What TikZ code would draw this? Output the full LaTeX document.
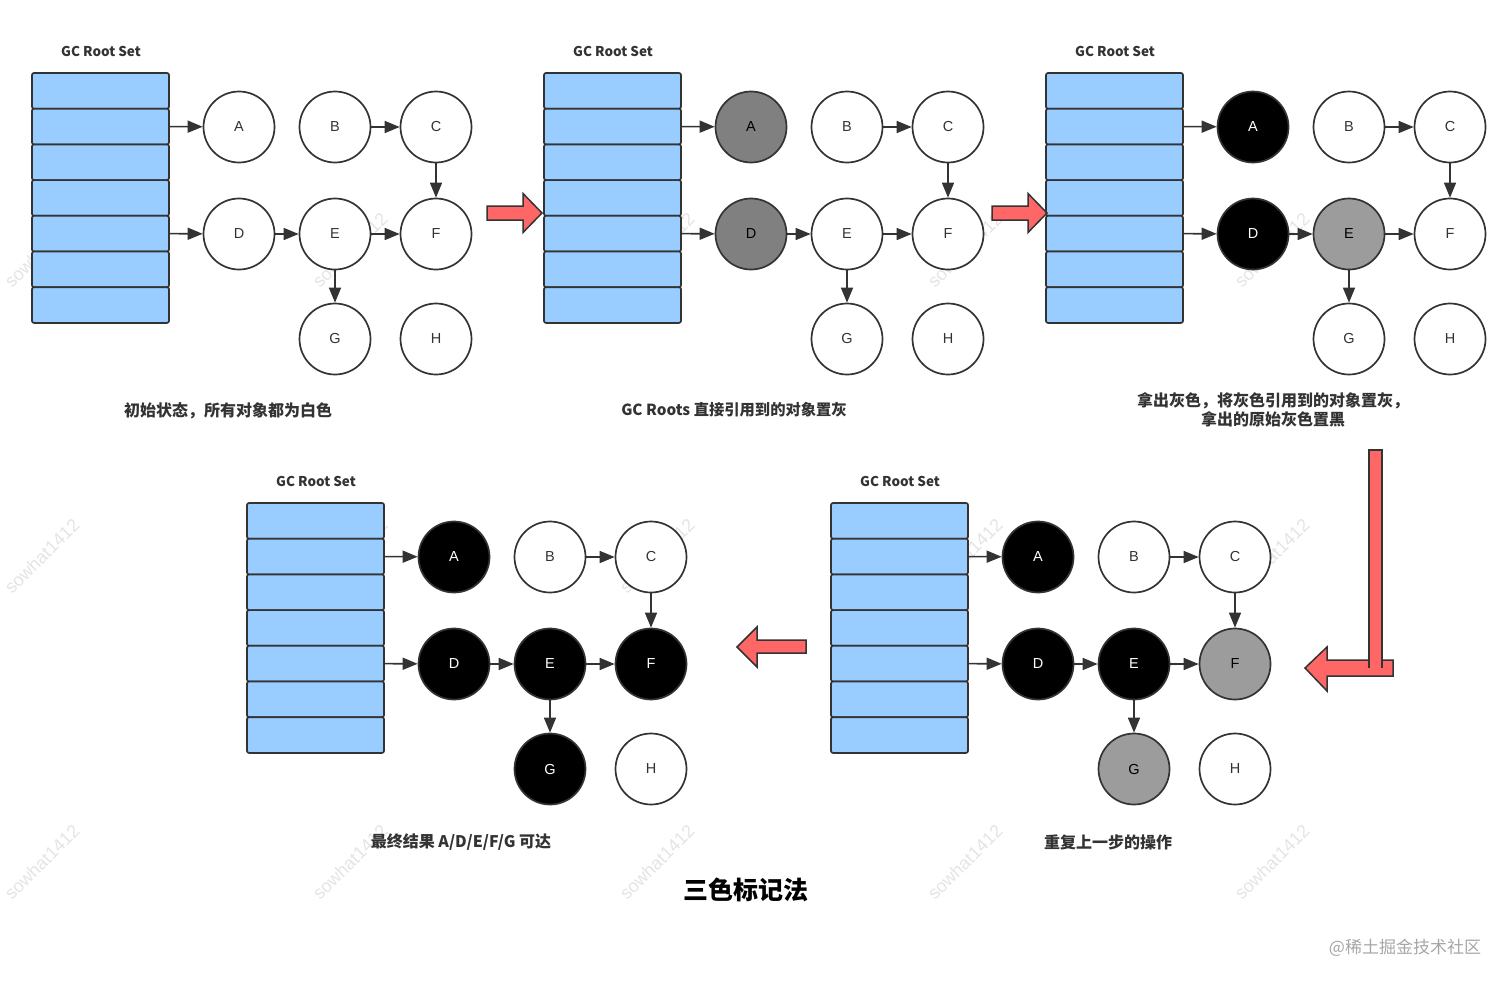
\documentclass[tikz,border=0pt]{standalone}
\usepackage{fontspec}
\usepackage{xcolor}
\usepackage{tikz}
\usetikzlibrary{arrows.meta,calc}
\setmainfont{Liberation Sans}
\newfontfamily\cjk{Noto Sans CJK SC}
\definecolor{rootblue}{HTML}{99CCFF}
\definecolor{linegray}{HTML}{333333}
\definecolor{objdark}{HTML}{808080}
\definecolor{objgray}{HTML}{9C9C9C}
\definecolor{redarrow}{HTML}{FF6666}
\definecolor{wmgray}{HTML}{E4E4E4}
\tikzset{
  rootcell/.style={draw=linegray, fill=rootblue, line width=1.7pt, rounded corners=2pt,
    minimum width=137pt, minimum height=35.7pt, inner sep=0pt},
  obj/.style={circle, draw=linegray, line width=1.7pt, minimum size=71pt, inner sep=0pt,
    font=\fontsize{14.5}{14.5}\selectfont},
  wobj/.style={obj, fill=white, text=linegray},
  dobj/.style={obj, fill=objdark, text=black},
  gobj/.style={obj, fill=objgray, text=black},
  bobj/.style={obj, fill=black, text=white},
  ref/.style={draw=linegray, line width=1.6pt, -{Triangle[length=15pt,width=12pt]}},
  setlabel/.style={font=\cjk\bfseries\fontsize{13.5}{14}\selectfont, text=linegray},
  caption/.style={font=\cjk\bfseries\fontsize{16}{19}\selectfont, text=linegray, align=center},
  bigarrow/.style={draw=linegray, fill=redarrow, line width=1.5pt, line join=miter},
  wmark/.style={font=\fontsize{18}{18}\selectfont, text=wmgray, rotate=45}
}
\newcommand{\gcpanel}[8]{
  \begin{scope}[shift={(#2,#3)}]
    \node[setlabel] (#1lbl) at (101,51) {GC Root Set};
    \foreach \i in {1,...,7}{
      \node[rootcell] (#1r\i) at (100.5,{73+35.7*(\i-0.5)}) {};
    }
    \node[#4] (#1A) at (239,127) {A};
    \node[wobj] (#1B) at (335,127) {B};
    \node[wobj] (#1C) at (436,127) {C};
    \node[#5] (#1D) at (239,234) {D};
    \node[#6] (#1E) at (335,234) {E};
    \node[#7] (#1F) at (436,234) {F};
    \node[#8] (#1G) at (335,339) {G};
    \node[wobj] (#1H) at (436,339) {H};
    \draw[ref] (#1r2.east) -- (#1A);
    \draw[ref] (#1r5.east) -- (#1D);
    \draw[ref] (#1B) -- (#1C);
    \draw[ref] (#1C) -- (#1F);
    \draw[ref] (#1D) -- (#1E);
    \draw[ref] (#1E) -- (#1F);
    \draw[ref] (#1E) -- (#1G);
  \end{scope}
}
\newcommand{\rightbig}[2]{
  \draw[bigarrow] (#1,#2-7) -- ++(36,0) -- ++(0,-12.5) -- ++(19,19.5) -- ++(-19,19.5)
    -- ++(0,-12.5) -- ++(-36,0) -- cycle;
}
\begin{document}
\begin{tikzpicture}[x=1pt,y=-1pt]
  \useasboundingbox (0,0) rectangle (1512,985);
  \foreach \wx in {42,350,657,965,1272}
    \foreach \wy in {250,556,862}{
      \node[wmark] (wm\wx\wy) at (\wx,\wy) {sowhat1412};
    }
  \gcpanel{p1}{0}{0}{wobj}{wobj}{wobj}{wobj}{wobj}
  \gcpanel{p2}{512}{0}{dobj}{dobj}{wobj}{wobj}{wobj}
  \gcpanel{p3}{1014}{0}{bobj}{bobj}{gobj}{wobj}{wobj}
  \gcpanel{p4}{799}{430}{bobj}{bobj}{bobj}{gobj}{gobj}
  \gcpanel{p5}{215}{430}{bobj}{bobj}{bobj}{bobj}{bobj}
  \rightbig{487}{213}
  \rightbig{992}{213}
  \draw[bigarrow] (737,647) -- (757,627) -- (757,640) -- (806,640) -- (806,653)
    -- (757,653) -- (757,667) -- cycle;
  \draw[bigarrow] (1305,668) -- (1327,647) -- (1327,660) -- (1393,660) -- (1393,676)
    -- (1327,676) -- (1327,691) -- cycle;
  \fill[redarrow] (1369,450) rectangle (1382,668);
  \draw[bigarrow, fill=none] (1369,668) -- (1369,450) -- (1382,450) -- (1382,668);
  \node[caption] (cap1) at (228,411) {初始状态，所有对象都为白色};
  \node[caption, font=\cjk\bfseries\fontsize{15.3}{19}\selectfont] (cap2) at (734,410) {GC Roots 直接引用到的对象置灰};
  \node[caption] (cap3) at (1273,410) {拿出灰色，将灰色引用到的对象置灰，\\拿出的原始灰色置黑};
  \node[caption] (cap4) at (1108,842) {重复上一步的操作};
  \node[caption] (cap5) at (461,842) {最终结果 A/D/E/F/G 可达};
  \node[font=\cjk\bfseries\fontsize{25}{25}\selectfont] (title) at (746,890) {三色标记法};
  \node[font=\cjk\fontsize{17}{17}\selectfont, text=black!35] (site) at (1405,948) {@稀土掘金技术社区};
\end{tikzpicture}
\end{document}
